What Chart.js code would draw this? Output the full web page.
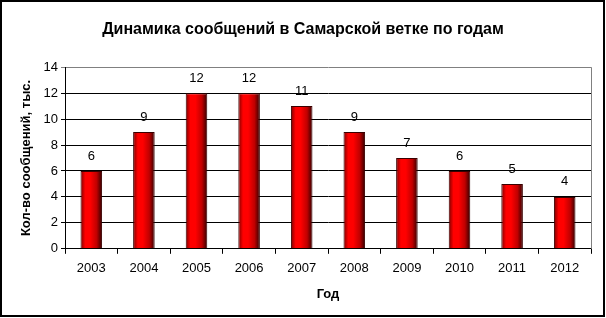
<!DOCTYPE html>
<html>
<head>
<meta charset="utf-8">
<script src="https://cdn.jsdelivr.net/npm/chart.js@4/dist/chart.umd.min.js"></script>
<style>
html,body{margin:0;padding:0;background:#fff;}
canvas{display:block;}
</style>
</head>
<body>
<canvas id="c" width="606" height="318"></canvas>
<script>
const categories = ['2003','2004','2005','2006','2007','2008','2009','2010','2011','2012'];
const values = [6, 9, 12, 12, 11, 9, 7, 6, 5, 4];
const yTicks = [0, 2, 4, 6, 8, 10, 12, 14];
const chartTitle = 'Динамика сообщений в Самарской ветке по годам';
const yTitle = 'Кол-во сообщений, тыс.';
const xTitle = 'Год';

const FONT = '"Liberation Sans", Arial, sans-serif';
const BAR_PCT = 0.41;

function barGradient(context) {
  const chart = context.chart;
  const xs = chart.scales && chart.scales.x;
  if (!xs || !chart.chartArea || context.dataIndex === undefined) return '#ff0000';
  const cx = xs.getPixelForValue(context.dataIndex);
  const w = (xs.width / categories.length) * BAR_PCT;
  const g = chart.ctx.createLinearGradient(cx - w / 2, 0, cx + w / 2, 0);
  g.addColorStop(0, '#7a0000');
  g.addColorStop(0.22, '#ff0000');
  g.addColorStop(0.45, '#ff0000');
  g.addColorStop(0.75, '#c00000');
  g.addColorStop(1, '#300000');
  return g;
}

const decorPlugin = {
  id: 'decor',
  afterDatasetsDraw(chart) {
    const ctx = chart.ctx;
    const meta = chart.getDatasetMeta(0);
    ctx.save();
    ctx.fillStyle = '#000';
    ctx.font = '13px ' + FONT;
    ctx.textAlign = 'center';
    ctx.textBaseline = 'middle';
    meta.data.forEach((el, i) => {
      ctx.fillText(String(values[i]), el.x, el.y - 15);
    });
    ctx.restore();
  },
  afterDraw(chart) {
    const ctx = chart.ctx;
    const a = chart.chartArea;
    ctx.save();
    ctx.strokeStyle = '#808080';
    ctx.lineWidth = 1;
    ctx.beginPath();
    ctx.moveTo(Math.round(a.right) + 0.5, a.top);
    ctx.lineTo(Math.round(a.right) + 0.5, a.bottom);
    ctx.stroke();
    ctx.strokeStyle = '#000';
    ctx.lineWidth = 2;
    ctx.strokeRect(1, 1, 603, 315);
    ctx.restore();
  }
};

new Chart(document.getElementById('c'), {
  type: 'bar',
  data: {
    labels: categories,
    datasets: [{
      data: values,
      backgroundColor: barGradient,
      borderColor: '#3a0000',
      borderWidth: 1,
      categoryPercentage: 1,
      barPercentage: BAR_PCT
    }]
  },
  options: {
    responsive: false,
    animation: false,
    events: [],
    layout: { padding: { left: 15, right: 15, top: 10, bottom: 16 } },
    plugins: {
      legend: { display: false },
      tooltip: { enabled: false },
      title: {
        display: true,
        text: chartTitle,
        color: '#000',
        font: { family: FONT, size: 16, weight: 'bold' },
        padding: { top: 10, bottom: 28 }
      }
    },
    scales: {
      x: {
        type: 'category',
        offset: true,
        grid: { display: true, offset: true, drawOnChartArea: false, drawTicks: true, tickLength: 5, color: '#000' },
        border: { display: true, color: '#000', width: 1 },
        ticks: { color: '#000', font: { family: FONT, size: 13 }, padding: 7, maxRotation: 0, autoSkip: false },
        title: { display: true, text: xTitle, color: '#000', font: { family: FONT, size: 13, weight: 'bold' }, padding: { top: 3, bottom: 0 } }
      },
      y: {
        min: 0,
        max: 14,
        afterFit(s) { s.width = 50; },
        afterBuildTicks(s) { s.ticks = yTicks.map(v => ({ value: v })); },
        grid: {
          color: (c) => (c.tick && c.tick.value === 14 ? '#808080' : '#000'),
          lineWidth: 1,
          drawTicks: true,
          tickLength: 4
        },
        border: { display: true, color: '#000', width: 1 },
        ticks: { color: '#000', font: { family: FONT, size: 13 }, padding: 3, stepSize: 2 },
        title: { display: true, text: yTitle, color: '#000', font: { family: FONT, size: 13, weight: 'bold' }, padding: { top: 4, bottom: 0 } }
      }
    }
  },
  plugins: [decorPlugin]
});
</script>
</body>
</html>
